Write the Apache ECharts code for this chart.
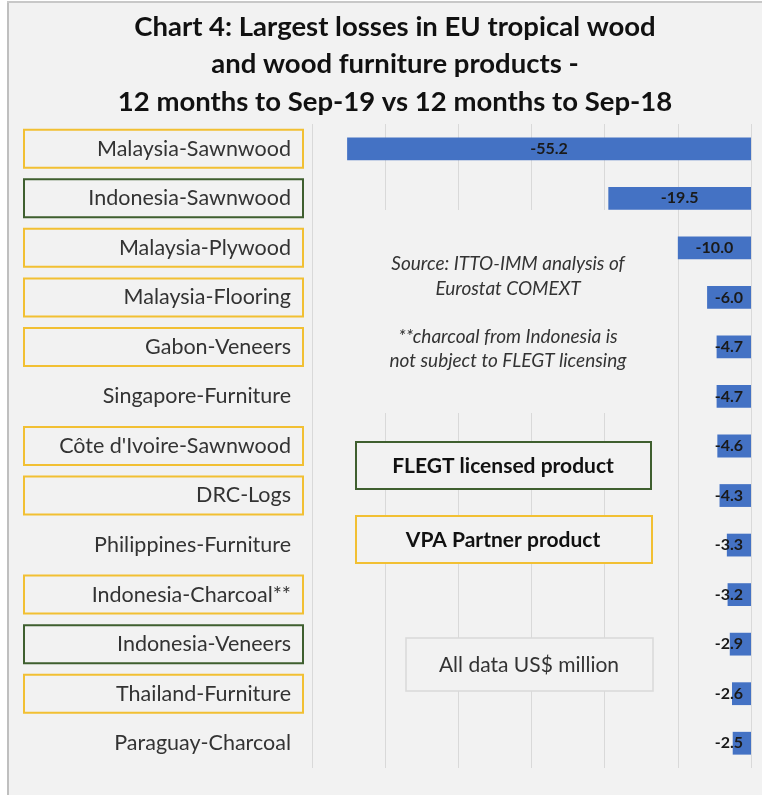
<!DOCTYPE html>
<html>
<head>
<meta charset="utf-8">
<script src="https://cdn.jsdelivr.net/npm/echarts@6/dist/echarts.min.js"></script>
<style>
  html, body { margin: 0; padding: 0; background: #ffffff; }
  #chart { width: 762px; height: 795px; }
</style>
</head>
<body>
<div id="chart"></div>
<script>
// products, top to bottom
const categories = [
  'Malaysia-Sawnwood', 'Indonesia-Sawnwood', 'Malaysia-Plywood', 'Malaysia-Flooring',
  'Gabon-Veneers', 'Singapore-Furniture', "Côte d'Ivoire-Sawnwood", 'DRC-Logs',
  'Philippines-Furniture', 'Indonesia-Charcoal**', 'Indonesia-Veneers',
  'Thailand-Furniture', 'Paraguay-Charcoal'
]
// change, US$ million
const values = [-55.2, -19.5, -10.0, -6.0, -4.7, -4.7, -4.6, -4.3, -3.3, -3.2, -2.9, -2.6, -2.5]
// flegt = FLEGT licensed product, vpa = VPA partner product, none = neither
const partnerStatus = [
  'vpa', 'flegt', 'vpa', 'vpa', 'vpa', 'none', 'vpa', 'vpa', 'none', 'vpa', 'flegt', 'vpa', 'none'
]
const xTicks = [-60, -50, -40, -30, -20, -10, 0]

const FONT = 'Lato'
const YELLOW = '#f2c033'
const GREEN = '#3f5f2f'

const boxStyle = (color) => ({
  fontFamily: FONT,
  fontSize: 21.5,
  color: '#333333',
  width: 265,
  align: 'right',
  lineHeight: 22,
  padding: [8, 12, 8, 2],
  borderColor: color,
  borderWidth: 2
})

const myChart = echarts.init(document.getElementById('chart'))
const option = {
  backgroundColor: '#f2f2f2',
  animation: false,
  title: {
    text: 'Chart 4: Largest losses in EU tropical wood\nand wood furniture products -\n12 months to Sep-19 vs 12 months to Sep-18',
    left: 390,
    top: 3,
    textAlign: 'center',
    textStyle: {
      fontFamily: FONT,
      fontSize: 27.5,
      fontWeight: 'bold',
      lineHeight: 37.5,
      color: '#111111'
    }
  },
  grid: { left: 312, right: 11, top: 124, bottom: 27 },
  xAxis: {
    type: 'value',
    min: xTicks[0],
    max: xTicks[xTicks.length - 1],
    interval: 10,
    axisLabel: { show: false },
    axisLine: { show: false },
    axisTick: { show: false },
    splitLine: { lineStyle: { color: '#d9d9d9', width: 1 } }
  },
  yAxis: {
    type: 'category',
    inverse: true,
    data: categories,
    axisLine: { show: false, onZero: false },
    axisTick: { show: false },
    axisLabel: {
      margin: 9,
      formatter: function (val, idx) {
        return '{' + partnerStatus[idx] + '|' + val + '}'
      },
      rich: {
        vpa: boxStyle(YELLOW),
        flegt: boxStyle(GREEN),
        none: boxStyle('transparent')
      }
    }
  },
  series: [
    {
      type: 'bar',
      data: values,
      barCategoryGap: '54%',
      itemStyle: { color: '#4472c4' },
      label: {
        show: true,
        position: 'inside',
        formatter: (p) => p.value.toFixed(1),
        fontFamily: FONT,
        fontSize: 16,
        fontWeight: 'bold',
        color: '#1a1a1a'
      },
      // keep labels of short bars inside the plot, as the original does
      labelLayout: function (params) {
        const r = params.labelRect
        const limit = 743
        if (r.x + r.width > limit) {
          return { dx: limit - (r.x + r.width) }
        }
        return {}
      }
    }
  ],
  graphic: [
    // frame
    { type: 'rect', shape: { x: 0, y: 0, width: 7, height: 795 }, style: { fill: '#ffffff' }, silent: true },
    { type: 'rect', shape: { x: 0, y: 0, width: 762, height: 1 }, style: { fill: '#ffffff' }, silent: true },
    { type: 'rect', shape: { x: 7, y: 1, width: 2, height: 794 }, style: { fill: '#bfbfbf' }, silent: true },
    { type: 'rect', shape: { x: 7, y: 1, width: 755, height: 2 }, style: { fill: '#c8c8c8' }, silent: true },
    // source note
    {
      type: 'rect', shape: { x: 345, y: 210, width: 327, height: 203 },
      style: { fill: '#f2f2f2' }, z: 10, silent: true
    },
    {
      type: 'text', x: 508, y: 252, z: 11,
      style: {
        text: 'Source: ITTO-IMM analysis of\nEurostat COMEXT\n\n**charcoal from Indonesia is\nnot subject to FLEGT licensing',
        align: 'center',
        verticalAlign: 'top',
        fontFamily: FONT,
        fontSize: 19,
        fontStyle: 'italic',
        lineHeight: 24.3,
        fill: '#333333'
      }
    },
    // legend boxes
    {
      type: 'rect', shape: { x: 356, y: 442, width: 295, height: 47 }, z: 10,
      style: { fill: '#f2f2f2', stroke: GREEN, lineWidth: 2 }
    },
    {
      type: 'text', x: 503, y: 466, z: 11,
      style: {
        text: 'FLEGT licensed product', align: 'center', verticalAlign: 'middle',
        fontFamily: FONT, fontSize: 21, fontWeight: 'bold', fill: '#111111'
      }
    },
    {
      type: 'rect', shape: { x: 356, y: 516, width: 296, height: 47 }, z: 10,
      style: { fill: '#f2f2f2', stroke: YELLOW, lineWidth: 2 }
    },
    {
      type: 'text', x: 503, y: 540, z: 11,
      style: {
        text: 'VPA Partner product', align: 'center', verticalAlign: 'middle',
        fontFamily: FONT, fontSize: 21, fontWeight: 'bold', fill: '#111111'
      }
    },
    {
      type: 'rect', shape: { x: 406, y: 638, width: 247, height: 53 }, z: 10,
      style: { fill: '#f2f2f2', stroke: '#d9d9d9', lineWidth: 1.5 }
    },
    {
      type: 'text', x: 529, y: 665, z: 11,
      style: {
        text: 'All data US$ million', align: 'center', verticalAlign: 'middle',
        fontFamily: FONT, fontSize: 21, fill: '#333333'
      }
    }
  ]
}
myChart.setOption(option)
</script>
</body>
</html>
